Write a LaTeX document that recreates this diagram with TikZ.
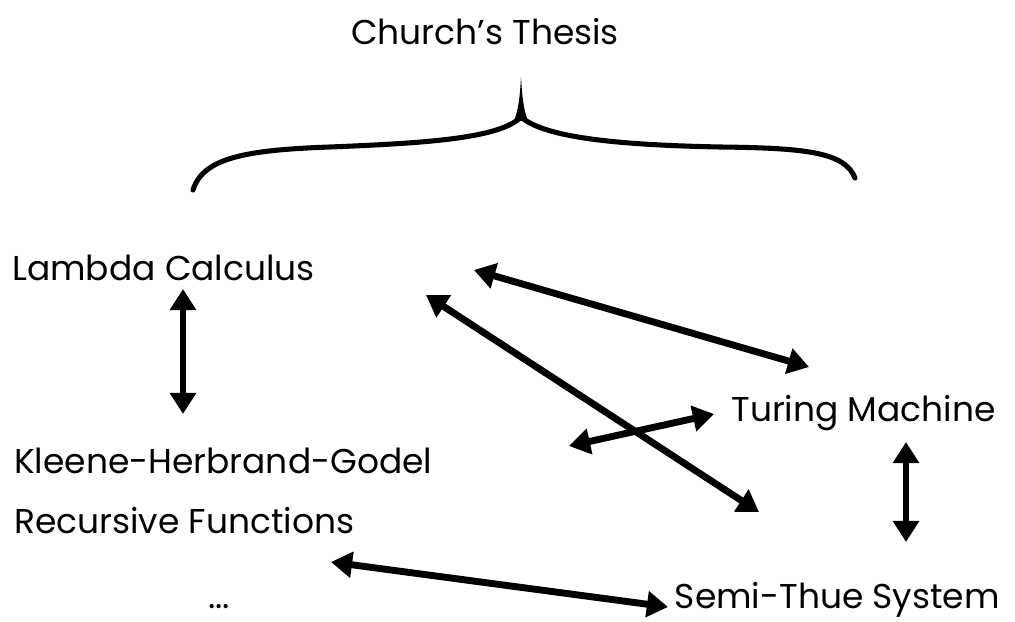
\documentclass[tikz,border=0pt]{standalone}
\usepackage{fontspec}
\setmainfont{Poppins}
\usetikzlibrary{arrows.meta}
\begin{document}
\begin{tikzpicture}[x=0.025cm,y=-0.025cm,
  lbl/.style={inner sep=0pt,font=\fontsize{24.5}{30}\selectfont},
  dbl/.style={line width=4.9pt,{Triangle[length=15pt,width=18pt]}-{Triangle[length=15pt,width=18pt]}},
  bracestyle/.style={line width=3.6pt,line cap=round}]
\useasboundingbox[fill=white] (0,0) rectangle (1015,622);
% labels
\node[lbl,anchor=base] (ct) at (485,45) {Church’s Thesis};
\node[lbl,anchor=base west] (lc) at (12,281) {Lambda Calculus};
\node[lbl,anchor=base west] (khg) at (14,474) {Kleene-Herbrand-Godel};
\node[lbl,anchor=base west] (rf) at (14,534) {Recursive Functions};
\node[lbl,anchor=base west] (dots) at (208,609) {...};
\node[lbl,anchor=base east] (tm) at (996,422) {Turing Machine};
\node[lbl,anchor=base east] (st) at (1000,609) {Semi-Thue System};
% brace
\draw[bracestyle] (193,190) .. controls (203,158) and (245,150) .. (330,147)
  .. controls (430,143) and (500,138) .. (521,117);
\draw[bracestyle] (521,117) .. controls (545,138) and (620,145) .. (720,147)
  .. controls (805,148) and (845,152) .. (855,178);
\fill (514,121) .. controls (519,108) and (520,94) .. (521,77)
  .. controls (522,94) and (523,108) .. (528,121) -- cycle;
% arrow end coordinates
\coordinate (lcA) at (183,289);
\coordinate (khgA) at (183,414);
\coordinate (lcB) at (474,270);
\coordinate (tmB) at (809,367);
\coordinate (lcC) at (426,295);
\coordinate (stC) at (759,512);
\coordinate (khgD) at (569,446);
\coordinate (tmD) at (714,414);
\coordinate (tmE) at (906,442);
\coordinate (stE) at (906,542);
\coordinate (rfF) at (331,562);
\coordinate (stF) at (668,607);
% connectors
\draw[dbl] (lcA) -- (khgA);
\draw[dbl] (lcB) -- (tmB);
\draw[dbl] (lcC) -- (stC);
\draw[dbl] (khgD) -- (tmD);
\draw[dbl] (tmE) -- (stE);
\draw[dbl] (rfF) -- (stF);
\end{tikzpicture}
\end{document}
